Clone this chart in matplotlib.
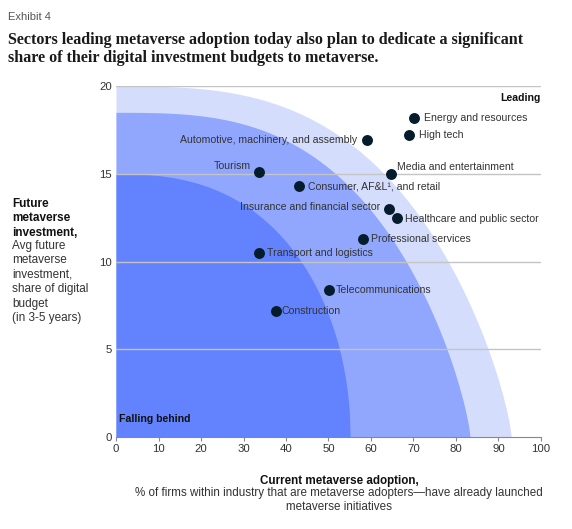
import numpy as np
import matplotlib
matplotlib.use("Agg")
from matplotlib import pyplot as plt

plt.rcParams['font.family'] = ['Liberation Sans', 'DejaVu Sans']

# sectors: current adoption (%) vs future investment (% of digital budget)
sectors = ['Energy and resources', 'High tech', 'Automotive, machinery, and assembly',
           'Tourism', 'Media and entertainment', 'Consumer, AF&L\u00b9, and retail',
           'Insurance and financial sector', 'Healthcare and public sector',
           'Professional services', 'Transport and logistics',
           'Telecommunications', 'Construction']
adoption = [70.1, 68.9, 59.1, 33.6, 64.7, 43.1, 64.2, 66.1, 58.1, 33.6, 50.1, 37.6]
investment = [18.2, 17.2, 16.9, 15.1, 15.0, 14.3, 13.0, 12.5, 11.3, 10.5, 8.4, 7.2]

# background zones: (x-intercept, y-intercept, p, q)
zones = [(93.0, 20.0, 3.0, 1.3), (83.3, 18.5, 3.0, 1.3), (55.1, 15.0, 2.5, 2.0)]
zone_colors = ['#d5ddfc', '#90a7fd', '#6282fe']

x_ticks = list(range(0, 101, 10))
y_ticks = [0, 5, 10, 15, 20]

# label placement (offset in points, ha, va)
label_pos = {
    'Energy and resources': (7, 0, 'left', 'center'),
    'High tech': (7, 0, 'left', 'center'),
    'Automotive, machinery, and assembly': (-7, 0, 'right', 'center'),
    'Tourism': (-6, 1, 'right', 'bottom'),
    'Media and entertainment': (4, 1, 'left', 'bottom'),
    'Consumer, AF&L\u00b9, and retail': (6, 0, 'left', 'center'),
    'Insurance and financial sector': (-6, 1, 'right', 'center'),
    'Healthcare and public sector': (6, -1, 'left', 'center'),
    'Professional services': (6, 0, 'left', 'center'),
    'Transport and logistics': (6, 0, 'left', 'center'),
    'Telecommunications': (5, 0, 'left', 'center'),
    'Construction': (4, 0, 'left', 'center'),
}

fig = plt.figure(figsize=(5.72, 5.29), dpi=100)
ax = fig.add_axes([0.2028, 0.1739, 0.7430, 0.6635])

for (a, b, p, q), c in zip(zones, zone_colors):
    xs = np.linspace(0, a, 300)
    ys = b * np.clip(1 - (xs / a) ** p, 0, None) ** (1.0 / q)
    ax.fill_between(xs, 0, ys, color=c, lw=0, zorder=1)

for yv in y_ticks[1:]:
    ax.axhline(yv, color='#c4c4c4', lw=1, zorder=2)

ax.scatter(adoption, investment, s=62, color='#051c2c', zorder=4, lw=0)
for name, xv, yv in zip(sectors, adoption, investment):
    dx, dy, ha, va = label_pos[name]
    ax.annotate(name, (xv, yv), xytext=(dx, dy), textcoords='offset points',
                ha=ha, va=va, fontsize=7.6, color='#333333', zorder=5)

ax.text(100, 19.3, 'Leading', ha='right', va='center', fontsize=7.6,
        fontweight='bold', color='#111111')
ax.text(0.8, 1.0, 'Falling behind', ha='left', va='center', fontsize=7.6,
        fontweight='bold', color='#111111')

ax.set_xlim(0, 100)
ax.set_ylim(0, 20)
ax.set_xticks(x_ticks)
ax.set_yticks(y_ticks)
for s in ['top', 'right', 'left']:
    ax.spines[s].set_visible(False)
ax.spines['bottom'].set_color('#888888')
ax.spines['bottom'].set_zorder(6)
ax.tick_params(axis='x', length=3, color='#888888', labelsize=8.2, labelcolor='#333333', pad=2)
ax.tick_params(axis='y', length=0, labelsize=8.2, labelcolor='#333333', pad=3)

fig.text(0.014, 0.977, 'Exhibit 4', fontsize=8, color='#555555', va='top')
fig.text(0.014, 0.940,
         'Sectors leading metaverse adoption today also plan to dedicate a significant\n'
         'share of their digital investment budgets to metaverse.',
         fontsize=11.65, fontweight='bold', family='Liberation Serif', color='#1a1a1a',
         va='top', linespacing=1.22)

fig.text(0.021, 0.626, 'Future\nmetaverse\ninvestment,', fontsize=8.5, fontweight='bold',
         color='#111111', va='top', linespacing=1.27)
fig.text(0.021, 0.5466, 'Avg future\nmetaverse\ninvestment,\nshare of digital\nbudget\n(in 3-5 years)',
         fontsize=8.5, color='#333333', va='top', linespacing=1.27)

fig.text(0.593, 0.0907, 'Current metaverse adoption,', fontsize=8.4, fontweight='bold',
         color='#111111', ha='center', va='center')
fig.text(0.593, 0.0548, '% of firms within industry that are metaverse adopters\u2014have already launched\n'
         'metaverse initiatives', fontsize=8.4, color='#333333', ha='center', va='center',
         linespacing=1.27)

fig.savefig('out.png', dpi=100)
